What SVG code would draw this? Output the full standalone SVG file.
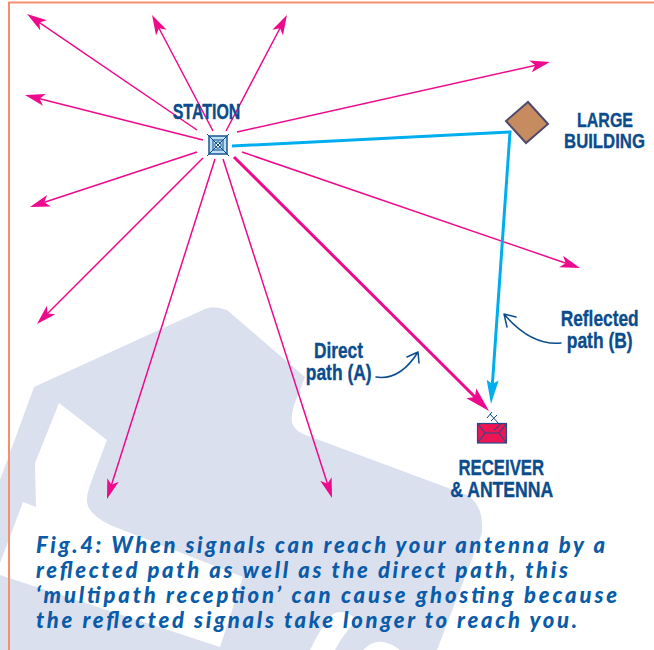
<svg xmlns="http://www.w3.org/2000/svg" width="654" height="650" viewBox="0 0 654 650">
<style>
.lbl{font-family:"Liberation Sans",Arial,sans-serif;font-weight:700;font-size:22px;fill:#0b4c8c;stroke:#0b4c8c;stroke-width:.35;text-anchor:middle}
.cap{font-family:"Lato","Open Sans",sans-serif;font-weight:900;font-style:italic;font-size:22px;fill:#0a5ca8}
.ray{fill:none;stroke:#ee0a8c;stroke-width:1.5;marker-end:url(#hp)}
.thin{fill:none;stroke:#0b4c8c;stroke-width:1.5;stroke-linecap:round;stroke-linejoin:round}
.st{fill:none;stroke:#0b4c8c}
</style>
<defs>
<marker id="hp" markerUnits="userSpaceOnUse" markerWidth="24" markerHeight="16" refX="16" refY="7" orient="auto"><path d="M0 1 L20 7 L0 13 L5 7Z" fill="#ee0a8c"/></marker>
<marker id="hd" markerUnits="userSpaceOnUse" markerWidth="28" markerHeight="18" refX="19" refY="8" orient="auto"><path d="M0 1 L25 8 L0 15 L5 8Z" fill="#ee0a8c"/></marker>
<marker id="hb" markerUnits="userSpaceOnUse" markerWidth="28" markerHeight="18" refX="18" refY="8" orient="auto"><path d="M0 2 L24 8 L0 14 L4 8Z" fill="#00aeef"/></marker>
</defs>
<g id="background">
<path d="M0 480 L34 387 L205 309 Q213 305 227 310 L305 377 L294 405 Q290 420 293 425 Q295 430 303 434 L467 495 Q482 505 482 525 L482 533 L437 650 L0 650Z" fill="#dbe0ef"/>
<path d="M59 403 L107 440 L90 485 Q85 500 88 506 Q92 516 110 525 L243 577 L220 647 L0 575 L0 563 L23 502 L36 507 L35 463Z" fill="#fff"/>
<path d="M310 650 Q322 625 333 614 Q345 608 357 620 Q343 634 335 650Z" fill="#fff"/>
<path d="M363 650 Q373 640 383 642 Q393 644 400 650Z" fill="#fff"/>
</g>
<path id="frame" d="M9 650 V2.5 H654" fill="none" stroke="#f58f6c" stroke-width="2"/>
<g id="connectors">
<path class="ray" d="M197 130 L30.3 16.3"/>
<path class="ray" d="M213 131 L153.9 18.5"/>
<path class="ray" d="M226 131 L285.1 18.5"/>
<path class="ray" d="M237 132 L546.1 62.9"/>
<path class="ray" d="M203 140 L28.9 96"/>
<path class="ray" d="M197 152 L33.8 205.7"/>
<path class="ray" d="M203 158 L39.8 321.2"/>
<path class="ray" d="M215 159 L108.2 495.2"/>
<path class="ray" d="M223 159 L330.8 494.2"/>
<path class="ray" d="M242 152 L576.2 266.7"/>
<path d="M234 157 L484.8 406.8" fill="none" stroke="#ee0a8c" stroke-width="3" marker-end="url(#hd)"/>
<path d="M232 146 L510 132 L491.4 398" fill="none" stroke="#00aeef" stroke-width="3" marker-end="url(#hb)"/>
<path class="thin" d="M376 377 C395 380 408 368 418 352 M407 357 L418 352 L419 363"/>
<path class="thin" d="M561 343 C538 345 520 333 504 314 M516 317 L504 314 L507 327"/>
</g>
<g id="station">
<rect x="209" y="136" width="18" height="18" fill="#bfe0f2" stroke="#0b4c8c" stroke-width="1.4"/>
<rect x="213" y="140" width="10" height="10" class="st"/>
<circle cx="218" cy="145" r="3.2" class="st" style="fill:#fff"/>
<path class="st" d="M207 134 L229 156 M229 134 L207 156"/>
<text class="lbl" transform="translate(206.5 119) scale(.725 1)">STATION</text>
</g>
<g id="building">
<path d="M528 102 L548 124 L526 143 L506 121Z" fill="#c68b5f" stroke="#4f4a6e" stroke-width="2"/>
<text class="lbl" style="font-size:21px" transform="translate(605 127) scale(.762 1)">LARGE</text>
<text class="lbl" style="font-size:21px" transform="translate(604.5 148) scale(.798 1)">BUILDING</text>
</g>
<g id="receiver">
<rect x="477.5" y="423.5" width="29" height="19.5" fill="#ee1555" stroke="#2b4a8a" stroke-width="1.2"/>
<path d="M477.5 423.5 L485 433 L477.5 443 M506.5 423.5 L499 433 L506.5 443 M485 433 H499" fill="none" stroke="#2b4a8a" stroke-width="1.2"/>
<path d="M490 414 L499 424 M487 418 L492 412 M491 421 L497 415 M494 430 L502 423" fill="none" stroke="#0b4c8c" stroke-width="1"/>
<text class="lbl" transform="translate(501.3 475) scale(.762 1)">RECEIVER</text>
<text class="lbl" transform="translate(501.7 497) scale(.8 1)">&amp; ANTENNA</text>
</g>
<g id="labels">
<text class="lbl" transform="translate(338.5 358) scale(.786 1)">Direct</text>
<text class="lbl" transform="translate(338.7 380) scale(.794 1)">path (A)</text>
<text class="lbl" transform="translate(599.7 326) scale(.788 1)">Reflected</text>
<text class="lbl" transform="translate(599.7 348) scale(.794 1)">path (B)</text>
</g>
<g id="caption">
<text class="cap" x="36" y="553" textLength="569" lengthAdjust="spacing">Fig.4: When signals can reach your antenna by a</text>
<text class="cap" x="36" y="578" textLength="532" lengthAdjust="spacing">reflected path as well as the direct path, this</text>
<text class="cap" x="36" y="603" textLength="581" lengthAdjust="spacing">‘multipath reception’ can cause ghosting because</text>
<text class="cap" x="36" y="628" textLength="541" lengthAdjust="spacing">the reflected signals take longer to reach you.</text>
</g>
</svg>
